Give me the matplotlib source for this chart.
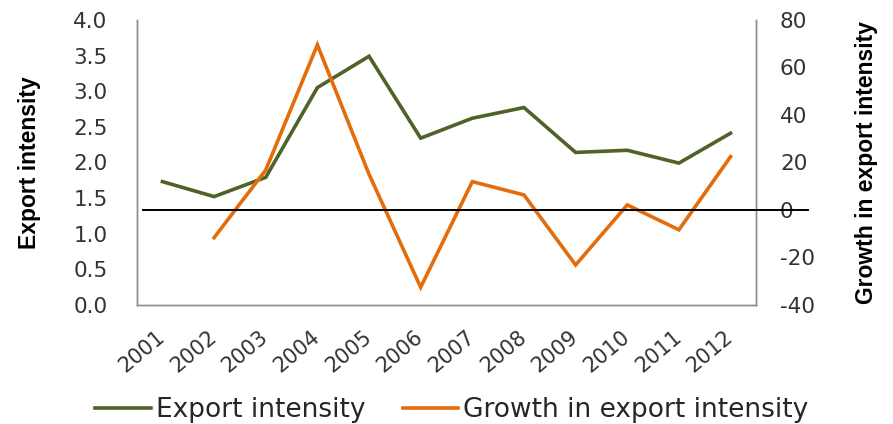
import matplotlib
matplotlib.use("Agg")
import matplotlib.pyplot as plt
import matplotlib.transforms as mtransforms

plt.rcParams['font.family'] = ['DejaVu Sans']
plt.rcParams['axes.unicode_minus'] = False

years = ['2001', '2002', '2003', '2004', '2005', '2006', '2007', '2008', '2009', '2010', '2011', '2012']
export_intensity = [1.73, 1.52, 1.79, 3.05, 3.49, 2.34, 2.62, 2.77, 2.14, 2.17, 1.99, 2.41]
growth_years = years[1:]
growth = [-11.7, 16.8, 69.5, 15.0, -32.6, 11.9, 6.3, -23.2, 2.1, -8.4, 22.4]
left_ticks = [0, 0.5, 1.0, 1.5, 2.0, 2.5, 3.0, 3.5, 4.0]
right_ticks = [-40, -20, 0, 20, 40, 60, 80]

green = '#4F6228'
orange = '#E46C0A'
tick_color = '#333333'
spine_color = '#8C8C8C'

fig = plt.figure(figsize=(8.93, 4.24), dpi=100)
ax = fig.add_axes([0.153, 0.281, 0.694, 0.672])
ax2 = ax.twinx()

x = list(range(len(years)))
gx = [years.index(y) for y in growth_years]

l1, = ax.plot(x, export_intensity, color=green, lw=2.6, solid_joinstyle='miter', label='Export intensity')
l2, = ax2.plot(gx, growth, color=orange, lw=2.6, solid_joinstyle='miter', label='Growth in export intensity')

ax.set_xlim(-0.5, len(years) - 0.5)
ax.set_ylim(0, 4.0)
ax2.set_ylim(-40, 80)
ax.set_yticks(left_ticks)
ax.set_yticklabels([f'{v:.1f}' for v in left_ticks])
ax2.set_yticks(right_ticks)
ax2.set_yticklabels([str(v) for v in right_ticks])

ax.set_xticks(x)
ax.set_xticklabels(years, rotation=40, ha='right', va='center', rotation_mode='anchor')

for a in (ax, ax2):
    a.tick_params(axis='both', length=0, labelsize=15.5, labelcolor=tick_color)
    a.spines['top'].set_visible(False)
    for s in ('left', 'right', 'bottom'):
        a.spines[s].set_color(spine_color)
        a.spines[s].set_linewidth(1.0)
ax.tick_params(axis='y', pad=21)
ax2.tick_params(axis='y', pad=17)
ax.tick_params(axis='x', pad=21, labelsize=15)

# zero line extending past the right spine
trans = mtransforms.blended_transform_factory(ax2.transAxes, ax2.transData)
ax2.plot([0.011, 1.084], [0, 0], color='black', lw=1.4, transform=trans, clip_on=False, zorder=3)

ax.set_ylabel('Export intensity', fontsize=16.5, fontweight='bold', family=['Liberation Sans', 'DejaVu Sans'],
              rotation=90, ha='center', va='center', rotation_mode='default')
ax.yaxis.set_label_coords(-0.173, 0.5)
ax2.set_ylabel('Growth in export intensity', fontsize=16.5, fontweight='bold', family=['Liberation Sans', 'DejaVu Sans'],
               rotation=90, ha='center', va='center', rotation_mode='default')
ax2.yaxis.set_label_coords(1.178, 0.5)

fig.legend(handles=[l1, l2], loc='center', bbox_to_anchor=(452 / 893, 14 / 424), ncol=2, frameon=False,
           fontsize=19, handlelength=2.1, columnspacing=1.4, handletextpad=0.2, labelcolor='#262626',
           borderpad=0.0)

fig.savefig('out.png', dpi=100)
